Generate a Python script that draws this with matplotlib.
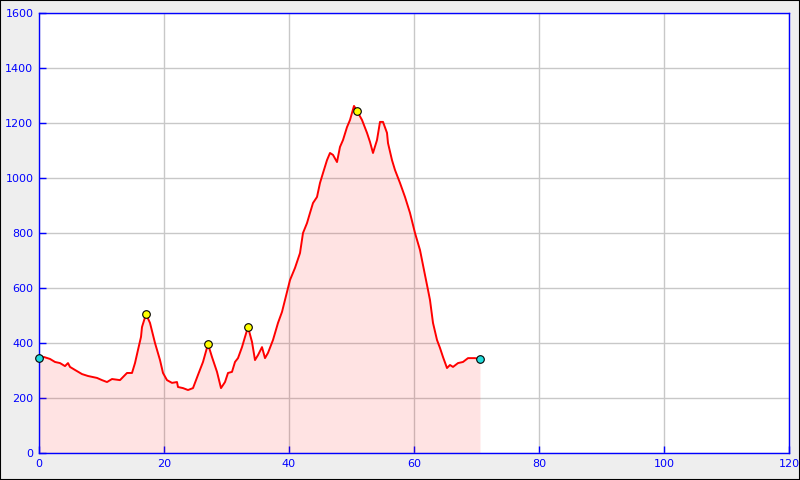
import matplotlib
matplotlib.use("Agg")
import matplotlib.pyplot as plt
from matplotlib.patches import Rectangle

# distance (km) and elevation (m)
dist_km = [0.0, 0.8, 1.76, 2.56, 3.36, 4.16, 4.64, 4.96, 5.76, 6.88, 7.84,
           9.28, 10.08, 10.88, 11.68, 12.96, 14.08, 14.88, 15.36, 15.84,
           16.32, 16.48, 17.12, 17.76, 18.56, 19.36, 19.84, 20.48, 21.28,
           22.08, 22.24, 23.04, 23.84, 24.64, 25.44, 26.24, 27.04, 27.68,
           28.48, 29.12, 29.76, 30.24, 30.88, 31.36, 31.84, 32.48, 32.96,
           33.44, 34.08, 34.56, 35.04, 35.68, 36.16, 36.64, 37.44, 38.24,
           38.88, 40.16, 40.96, 41.76, 42.24, 42.88, 43.36, 43.84, 44.48,
           44.96, 45.44, 46.08, 46.56, 47.04, 47.68, 48.16, 48.64, 49.28,
           49.76, 50.4, 50.88, 51.68, 52.48, 52.96, 53.44, 54.08, 54.56,
           55.04, 55.68, 55.84, 56.48, 56.96, 57.76, 58.56, 59.36, 60.16,
           60.96, 61.76, 62.24, 62.56, 63.04, 63.68, 64.16, 64.64, 65.28,
           65.76, 66.24, 67.04, 67.84, 68.64, 69.76, 70.56]
elev_m = [345, 349, 342, 331, 327, 316, 327, 313, 302, 287, 280,
          273, 265, 258, 269, 265, 291, 291, 327, 375,
          422, 458, 505, 473, 400, 338, 291, 265, 255,
          258, 240, 236, 229, 236, 284, 331, 396, 349,
          295, 236, 258, 291, 295, 331, 345, 385, 422,
          458, 404, 338, 356, 385, 345, 364, 411, 473,
          513, 629, 673, 727, 800, 836, 873, 909, 931,
          982, 1018, 1065, 1091, 1084, 1058, 1113, 1138, 1185,
          1211, 1262, 1244, 1211, 1164, 1131, 1091, 1138, 1204,
          1204, 1164, 1127, 1065, 1029, 982, 931, 873, 800,
          738, 647, 593, 556, 473, 411, 382, 349, 309,
          320, 313, 327, 331, 345, 345, 342]

# waypoint markers
end_km = [0.0, 70.56]
end_m = [345, 342]
peak_km = [17.12, 27.04, 33.44, 50.88]
peak_m = [505, 396, 458, 1244]

x_ticks = [0, 20, 40, 60, 80, 100, 120]
y_ticks = [0, 200, 400, 600, 800, 1000, 1200, 1400, 1600]

blue = "#0000ff"

fig = plt.figure(figsize=(8, 4.8), dpi=100, facecolor="#eeeeee")
fig.patches.append(Rectangle((0, 0), 1, 1, transform=fig.transFigure,
                             fill=False, edgecolor="black", linewidth=1.5))
ax = fig.add_axes([39 / 800, 27 / 480, 750 / 800, 440 / 480])

ax.set_xlim(0, 120)
ax.set_ylim(0, 1600)
ax.set_xticks(x_ticks)
ax.set_yticks(y_ticks)
ax.grid(True, color="#c8c8c8", linewidth=1)
ax.set_axisbelow(True)

ax.fill_between(dist_km, elev_m, 0, color="red", alpha=0.11, linewidth=0, zorder=2)
ax.plot(dist_km, elev_m, color="red", linewidth=1.4, zorder=3)
ax.scatter(end_km, end_m, s=30, color="#22dddd", edgecolor="black",
           linewidth=0.8, zorder=4, clip_on=False)
ax.scatter(peak_km, peak_m, s=30, color="#ffff00", edgecolor="black",
           linewidth=0.8, zorder=4)

for s in ax.spines.values():
    s.set_color(blue)
    s.set_linewidth(1)
ax.tick_params(direction="in", length=5, width=1, color=blue,
               labelcolor=blue, labelsize=8, pad=4)

fig.savefig("out.png", dpi=100, facecolor=fig.get_facecolor())
